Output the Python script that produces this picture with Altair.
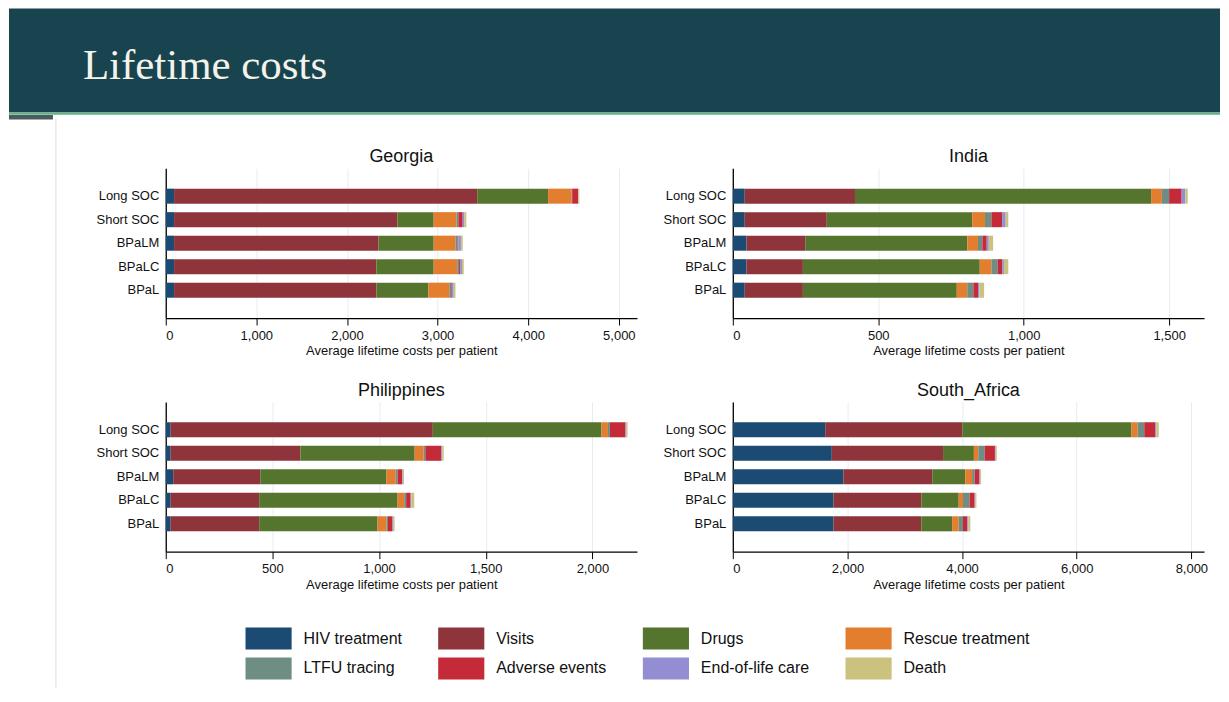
import altair as alt
import pandas as pd

COUNTRIES = ["Georgia", "India", "Philippines", "South_Africa"]
STRATEGIES = ["Long SOC", "Short SOC", "BPaLM", "BPaLC", "BPaL"]
COMPONENTS = ["HIV treatment", "Visits", "Drugs", "Rescue treatment",
              "LTFU tracing", "Adverse events", "End-of-life care", "Death"]
COLORS = ["#1b4a72", "#8f343b", "#55752f", "#e37e2e",
          "#6e8e84", "#c52a38", "#938dd2", "#cac27e"]

# values per component, in STRATEGIES order
georgia = {
    "HIV treatment":    [92, 92, 92, 92, 92],
    "Visits":           [3345, 2464, 2256, 2232, 2232],
    "Drugs":            [782, 401, 609, 633, 573],
    "Rescue treatment": [260, 252, 240, 260, 232],
    "LTFU tracing":     [6, 20, 24, 20, 20],
    "Adverse events":   [65, 48, 8, 12, 8],
    "End-of-life care": [4, 20, 28, 20, 20],
    "Death":            [10, 20, 20, 20, 20],
}
india = {
    "HIV treatment":    [41, 41, 47, 47, 41],
    "Visits":           [379, 282, 202, 194, 200],
    "Drugs":            [1018, 500, 557, 608, 529],
    "Rescue treatment": [37, 44, 37, 40, 36],
    "LTFU tracing":     [25, 22, 15, 21, 21],
    "Adverse events":   [43, 37, 15, 16, 16],
    "End-of-life care": [13, 12, 7, 6, 5],
    "Death":            [8, 9, 15, 15, 16],
}
philippines = {
    "HIV treatment":    [23, 23, 35, 23, 23],
    "Visits":           [1229, 608, 408, 415, 415],
    "Drugs":            [791, 536, 592, 649, 555],
    "Rescue treatment": [30, 42, 43, 31, 42],
    "LTFU tracing":     [9, 8, 9, 9, 7],
    "Adverse events":   [73, 75, 21, 21, 21],
    "End-of-life care": [3, 4, 3, 3, 3],
    "Death":            [7, 7, 6, 14, 7],
}
south_africa = {
    "HIV treatment":    [1612, 1727, 1929, 1758, 1758],
    "Visits":           [2391, 1941, 1550, 1531, 1531],
    "Drugs":            [2953, 538, 575, 652, 537],
    "Rescue treatment": [108, 76, 120, 75, 115],
    "LTFU tracing":     [114, 114, 45, 114, 75],
    "Adverse events":   [190, 177, 82, 89, 76],
    "End-of-life care": [19, 13, 13, 12, 19],
    "Death":            [44, 19, 18, 19, 32],
}
DATA = [georgia, india, philippines, south_africa]

X_MAX = [5200, 1620, 2209, 8221]
X_TICKS = [
    [0, 1000, 2000, 3000, 4000, 5000],
    [0, 500, 1000, 1500],
    [0, 500, 1000, 1500, 2000],
    [0, 2000, 4000, 6000, 8000],
]
HEADER = ["Lifetime costs"]

rows = []
for country, table in zip(COUNTRIES, DATA):
    for ci, comp in enumerate(COMPONENTS):
        for si, strat in enumerate(STRATEGIES):
            rows.append({"country": country, "strategy": strat,
                         "component": comp, "idx": ci,
                         "cost": table[comp][si]})
df = pd.DataFrame(rows)

FONT = "Liberation Sans"
LEGEND = alt.Legend(
    title=None, orient="none", legendX=92, legendY=460,
    columns=4, direction="horizontal",
    symbolType="M-2.1,-1H2.1V1H-2.1Z", symbolSize=484,
    symbolStrokeWidth=0, symbolOpacity=1, labelFont=FONT, labelFontSize=16,
    labelColor="#111", labelOffset=24, columnPadding=35, rowPadding=8,
    labelLimit=300,
)

PLOT_W, PLOT_H = 472, 150


def bars(i):
    d = df[df["country"] == COUNTRIES[i]]
    return alt.Chart(d).mark_bar().encode(
        x=alt.X("cost:Q", stack="zero",
                scale=alt.Scale(domain=[0, X_MAX[i]], nice=False),
                axis=alt.Axis(values=X_TICKS[i], format=",.0f",
                              title="Average lifetime costs per patient",
                              grid=True, tickSize=7, labelPadding=4,
                              titlePadding=3)),
        y=alt.Y("strategy:N", sort=STRATEGIES,
                scale=alt.Scale(paddingInner=0.36, paddingOuter=0.865),
                axis=alt.Axis(title=None, ticks=False, grid=False,
                              labelPadding=7)),
        color=alt.Color("component:N",
                        scale=alt.Scale(domain=COMPONENTS, range=COLORS),
                        legend=LEGEND),
        order=alt.Order("idx:Q", sort="ascending"),
    )


def panel_title(i):
    t = pd.DataFrame({"country": [COUNTRIES[i]]})
    return alt.Chart(t).mark_text(
        font=FONT, fontSize=18, color="#111", align="center",
        baseline="alphabetic",
    ).encode(text="country:N", x=alt.value(PLOT_W / 2), y=alt.value(-6))


# slide header band and slide edge, drawn relative to the first panel's plot origin
head_df = pd.DataFrame({"label": HEADER})
head_rect = alt.Chart(head_df).mark_rect(color="#184450").encode(
    x=alt.value(-157), x2=alt.value(1056),
    y=alt.value(-160), y2=alt.value(-56))
head_line = alt.Chart(head_df).mark_rule(color="#5cb87a", strokeWidth=1.6).encode(
    x=alt.value(-157), x2=alt.value(1056), y=alt.value(-54.5))
head_tab = alt.Chart(head_df).mark_rect(color="#4a5b62").encode(
    x=alt.value(-157), x2=alt.value(-113),
    y=alt.value(-53.5), y2=alt.value(-49))
slide_edge = alt.Chart(head_df).mark_rule(color="#dcdcdc", strokeWidth=1).encode(
    x=alt.value(-110), y=alt.value(-50), y2=alt.value(520))
head_text = alt.Chart(head_df).mark_text(
    font="Liberation Serif", fontSize=43, color="#f5f2ea",
    align="left", baseline="alphabetic",
).encode(text="label:N", x=alt.value(-83), y=alt.value(-89))

panels = []
for i in range(4):
    layers = [bars(i), panel_title(i)]
    if i == 0:
        layers += [head_rect, head_line, head_tab, slide_edge, head_text]
    panels.append(alt.layer(*layers).properties(width=PLOT_W, height=PLOT_H))

chart = alt.concat(
    *panels, columns=2, bounds="flush",
    spacing={"row": 84, "column": 96},
).properties(
    padding=0, background="white",
).configure_axis(
    labelFont=FONT, titleFont=FONT, labelFontSize=13, titleFontSize=13,
    titleFontWeight="normal", labelColor="#111", titleColor="#111",
    domainColor="#000", domainWidth=1.3, tickColor="#000",
    gridColor="#e4edf1", gridWidth=1,
).configure_view(strokeWidth=0)

chart.save("out.html", embed_options={"renderer": "svg", "actions": False})
